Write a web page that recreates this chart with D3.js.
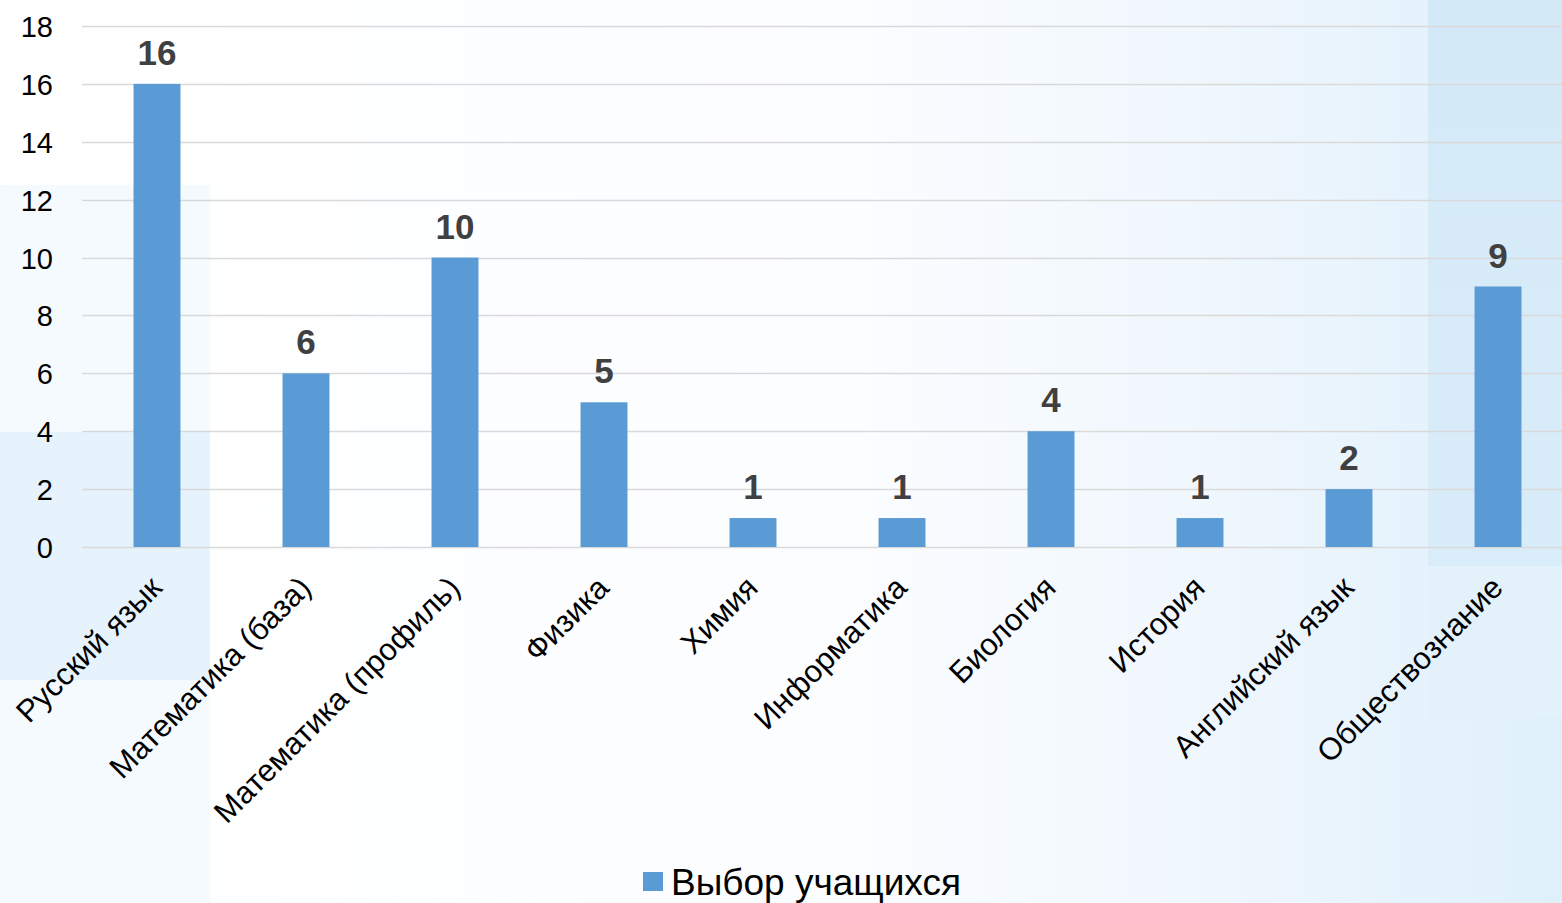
<!DOCTYPE html>
<html>
<head>
<meta charset="utf-8">
<script src="https://cdn.jsdelivr.net/npm/d3@7"></script>
<style>
  html, body { margin: 0; padding: 0; background: #ffffff; }
  svg { display: block; }
</style>
</head>
<body>
<svg id="chart" width="1562" height="903"></svg>
<script>
const categories = ["Русский язык", "Математика (база)", "Математика (профиль)", "Физика", "Химия", "Информатика", "Биология", "История", "Английский язык", "Обществознание"];
const values = [16, 6, 10, 5, 1, 1, 4, 1, 2, 9];
const yTicks = [0, 2, 4, 6, 8, 10, 12, 14, 16, 18];
const seriesName = "Выбор учащихся";

const W = 1562, H = 903;
const FONT = "Liberation Sans, Arial, sans-serif";
const svg = d3.select("#chart");
const defs = svg.append("defs");

// background decoration
const g1 = defs.append("linearGradient").attr("id", "bgGrad").attr("x1", "0").attr("x2", "1").attr("y1", "0").attr("y2", "0");
g1.append("stop").attr("offset", "0").attr("stop-color", "#ffffff");
g1.append("stop").attr("offset", "0.55").attr("stop-color", "#fbfdff");
g1.append("stop").attr("offset", "0.8").attr("stop-color", "#eef6fd");
g1.append("stop").attr("offset", "1").attr("stop-color", "#dff0fb");
svg.append("rect").attr("x", 0).attr("y", 0).attr("width", W).attr("height", H).attr("fill", "url(#bgGrad)");

const g2 = defs.append("linearGradient").attr("id", "rGrad").attr("x1", "0").attr("x2", "0").attr("y1", "0").attr("y2", "1");
g2.append("stop").attr("offset", "0").attr("stop-color", "#d4e9f8");
g2.append("stop").attr("offset", "1").attr("stop-color", "#d9ecf9");
svg.append("rect").attr("x", 1428).attr("y", 0).attr("width", 134).attr("height", 566).attr("fill", "url(#rGrad)");
svg.append("rect").attr("x", 1428).attr("y", 566).attr("width", 134).attr("height", 152).attr("fill", "#e3f1fb");

svg.append("rect").attr("x", 0).attr("y", 185).attr("width", 210).attr("height", 718).attr("fill", "#f5faff");
svg.append("rect").attr("x", 0).attr("y", 432).attr("width", 210).attr("height", 248).attr("fill", "#e6f3fd");

// scales
const x = d3.scaleBand().domain(categories).range([82.5, 1572.5]).paddingInner(0.685).paddingOuter(0.3425);
const y = d3.scaleLinear().domain([0, 18]).range([547, 26]);

// gridlines
svg.append("g").selectAll("line").data(yTicks).join("line")
  .attr("x1", 82).attr("x2", W)
  .attr("y1", d => Math.round(y(d)) + 0.5).attr("y2", d => Math.round(y(d)) + 0.5)
  .attr("stroke", "#d9d9d9").attr("stroke-width", 1.5);

// y axis labels
const yAxis = d3.axisLeft(y).tickValues(yTicks).tickSize(0).tickPadding(0);
const ya = svg.append("g").attr("transform", "translate(53,0)").call(yAxis);
ya.select(".domain").remove();
ya.selectAll("text").attr("font-family", FONT).attr("font-size", 29).attr("fill", "#000").attr("dy", "0.36em");

// bars
svg.append("g").selectAll("rect").data(values).join("rect")
  .attr("x", (d, i) => x(categories[i]))
  .attr("width", x.bandwidth())
  .attr("y", d => y(d))
  .attr("height", d => y(0) - y(d))
  .attr("fill", "#5b9bd5");

// value labels
svg.append("g").selectAll("text").data(values).join("text")
  .attr("x", (d, i) => x(categories[i]) + x.bandwidth() / 2)
  .attr("y", d => y(d) - 19)
  .attr("text-anchor", "middle")
  .attr("font-family", FONT)
  .attr("font-weight", "bold")
  .attr("font-size", 35)
  .attr("fill", "#404040")
  .text(d => d);

// x axis labels
svg.append("g").selectAll("text").data(categories).join("text")
  .attr("transform", d => `translate(${x(d) + x.bandwidth() / 2 - 1},${y(0) + 35}) rotate(-45)`)
  .attr("text-anchor", "end")
  .attr("dy", "0.35em")
  .attr("font-family", FONT)
  .attr("font-size", 31)
  .attr("fill", "#000")
  .text(d => d);

// legend
const lg = svg.append("g");
lg.append("rect").attr("x", 643).attr("y", 872).attr("width", 20).attr("height", 19).attr("fill", "#5b9bd5");
lg.append("text").attr("x", 671).attr("y", 895)
  .attr("font-family", FONT)
  .attr("font-size", 37).attr("fill", "#000").text(seriesName);
</script>
</body>
</html>
